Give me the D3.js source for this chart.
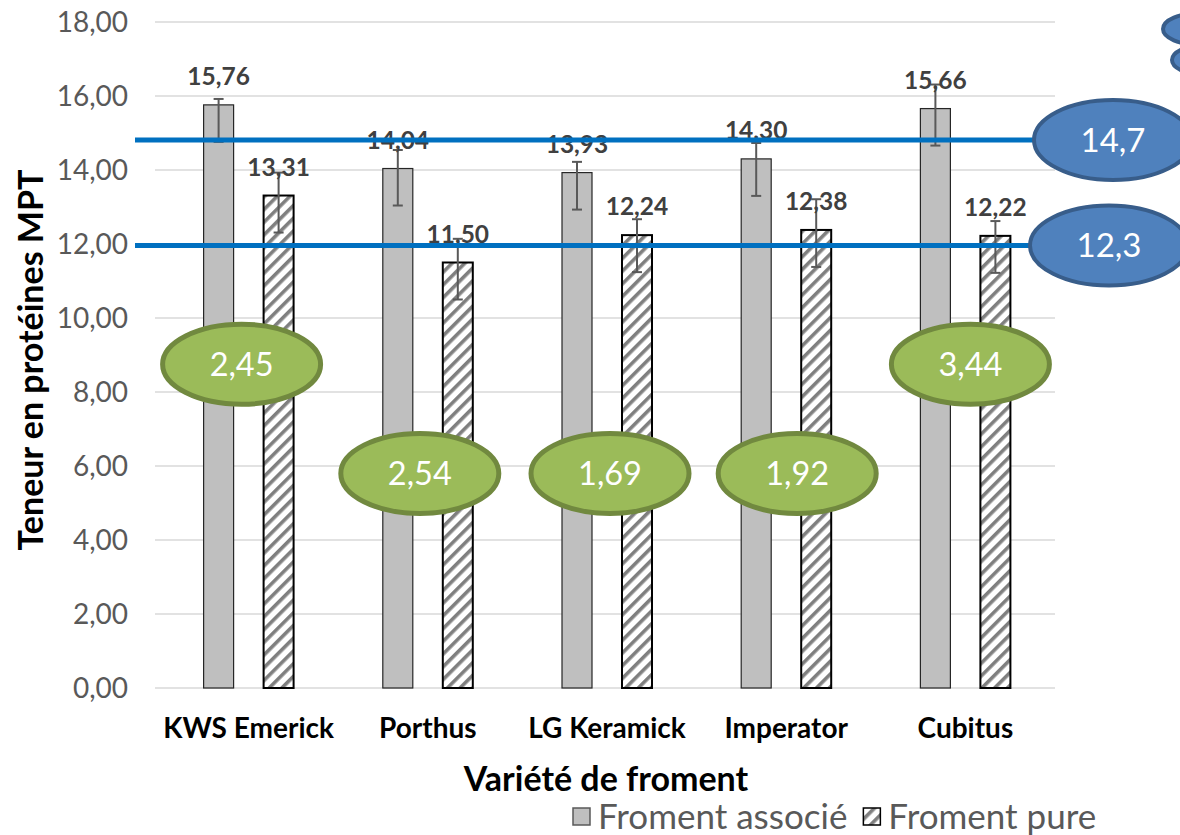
<!DOCTYPE html>
<html>
<head>
<meta charset="utf-8">
<script src="https://cdn.jsdelivr.net/npm/d3@7"></script>
<style>
  body { margin: 0; background: #fff; }
  svg { display: block; font-family: Lato, "Open Sans", sans-serif; }
</style>
</head>
<body>
<svg id="chart" width="1180" height="835"></svg>
<script>
// Chart data
let varieties = ["KWS Emerick", "Porthus", "LG Keramick", "Imperator", "Cubitus"];
let seriesNames = ["Froment associé", "Froment pure"];
let associe = [15.76, 14.04, 13.93, 14.30, 15.66];
let pure = [13.31, 11.50, 12.24, 12.38, 12.22];
let associeErrUp = [0.16, 0.50, 0.29, 0.43, 0.65];
let pureErrUp = [0.62, 0.64, 0.43, 0.83, 0.40];
let errDown = 1.0;
let yTicks = [0, 2, 4, 6, 8, 10, 12, 14, 16, 18];
// horizontal reference lines and their labels
let refValues = [14.81, 11.96];
let refLabels = ["14,7", "12,3"];
// difference bubbles: height on the y axis and shift from the category centre
let diffHeights = [8.75, 5.8, 5.8, 5.8, 8.75];
let diffShift = [-7, -8, 3, 11, 5];

let width = 1180;
let height = 835;
let margin = { top: 22, right: 125, bottom: 147, left: 159 };

let svg = d3.select("#chart");

let locale = d3.formatLocale({ decimal: ",", thousands: " ", grouping: [3], currency: ["", "€"] });
let fmt2 = locale.format(".2f");

let x0 = d3.scaleBand()
    .domain(varieties)
    .range([margin.left, width - margin.right])
    .padding(0);

let x1 = d3.scaleBand()
    .domain(seriesNames)
    .range([x0.bandwidth() / 2 - 60, x0.bandwidth() / 2 + 60])
    .paddingInner(0.5)
    .paddingOuter(0.25);

let y = d3.scaleLinear()
    .domain([0, 18])
    .range([height - margin.bottom, margin.top]);

// hatch pattern
let defs = svg.append("defs");
let pat = defs.append("pattern")
    .attr("id", "hatch")
    .attr("patternUnits", "userSpaceOnUse")
    .attr("width", 9)
    .attr("height", 9)
    .attr("patternTransform", "rotate(45)");
pat.append("rect").attr("width", 9).attr("height", 9).attr("fill", "#fff");
pat.append("rect").attr("x", 0).attr("y", 0).attr("width", 3.6).attr("height", 9).attr("fill", "#7f7f7f");

// gridlines
svg.append("g")
    .selectAll("line")
    .data(yTicks)
    .enter()
    .append("line")
    .attr("x1", margin.left - 4)
    .attr("x2", width - margin.right)
    .attr("y1", d => y(d))
    .attr("y2", d => y(d))
    .attr("stroke", "#d9d9d9")
    .attr("stroke-width", 1.5);

// y tick labels
svg.append("g")
    .selectAll("text")
    .data(yTicks)
    .enter()
    .append("text")
    .attr("x", 128)
    .attr("y", d => y(d))
    .attr("dy", "0.36em")
    .attr("text-anchor", "end")
    .attr("fill", "#595959")
    .attr("font-size", 28)
    .text(d => fmt2(d));

// bars
let rows = varieties.map((v, i) => [
    { variety: v, series: seriesNames[0], value: associe[i], up: associeErrUp[i] },
    { variety: v, series: seriesNames[1], value: pure[i], up: pureErrUp[i] }
]).flat();

let bars = svg.append("g");
bars.selectAll("rect")
    .data(rows)
    .enter()
    .append("rect")
    .attr("x", d => x0(d.variety) + x1(d.series))
    .attr("y", d => y(d.value))
    .attr("width", x1.bandwidth())
    .attr("height", d => y(0) - y(d.value))
    .attr("fill", d => d.series === seriesNames[0] ? "#bfbfbf" : "url(#hatch)")
    .attr("stroke", d => d.series === seriesNames[0] ? "#262626" : "#000")
    .attr("stroke-width", d => d.series === seriesNames[0] ? 1.2 : 2);

// error bars
let errG = svg.append("g")
    .attr("stroke", "#595959")
    .attr("stroke-width", 2);
let cx = d => x0(d.variety) + x1(d.series) + x1.bandwidth() / 2;
errG.selectAll("line.v")
    .data(rows)
    .enter()
    .append("line")
    .attr("x1", cx).attr("x2", cx)
    .attr("y1", d => y(d.value + d.up))
    .attr("y2", d => y(d.value - errDown));
errG.selectAll("line.t")
    .data(rows)
    .enter()
    .append("line")
    .attr("x1", d => cx(d) - 5).attr("x2", d => cx(d) + 5)
    .attr("y1", d => y(d.value + d.up))
    .attr("y2", d => y(d.value + d.up));
errG.selectAll("line.b")
    .data(rows)
    .enter()
    .append("line")
    .attr("x1", d => cx(d) - 5).attr("x2", d => cx(d) + 5)
    .attr("y1", d => y(d.value - errDown))
    .attr("y2", d => y(d.value - errDown));

// data labels
svg.append("g")
    .selectAll("text")
    .data(rows)
    .enter()
    .append("text")
    .attr("x", cx)
    .attr("y", d => y(d.value) - 20)
    .attr("text-anchor", "middle")
    .attr("font-size", 24.5)
    .attr("font-weight", "bold")
    .attr("fill", "#404040")
    .text(d => fmt2(d.value));

// x tick labels
svg.append("g")
    .selectAll("text")
    .data(varieties)
    .enter()
    .append("text")
    .attr("x", d => x0(d) + x0.bandwidth() / 2)
    .attr("y", 738)
    .attr("text-anchor", "middle")
    .attr("font-size", 28)
    .attr("font-weight", "bold")
    .attr("fill", "#000")
    .text(d => d);

// axis titles
svg.append("text")
    .attr("x", 606)
    .attr("y", 791)
    .attr("text-anchor", "middle")
    .attr("font-size", 34)
    .attr("font-weight", "bold")
    .text("Variété de froment");

svg.append("text")
    .attr("transform", "translate(43,360) rotate(-90)")
    .attr("text-anchor", "middle")
    .attr("font-size", 34)
    .attr("font-weight", "bold")
    .text("Teneur en protéines MPT");

// reference lines
svg.append("g")
    .selectAll("line")
    .data(refValues)
    .enter()
    .append("line")
    .attr("x1", 135)
    .attr("x2", 1080)
    .attr("y1", d => y(d))
    .attr("y2", d => y(d))
    .attr("stroke", "#0070c0")
    .attr("stroke-width", 5);

// difference bubbles
let diffs = varieties.map((v, i) => ({
    variety: v,
    diff: associe[i] - pure[i],
    h: diffHeights[i],
    shift: diffShift[i]
}));
let bub = svg.append("g")
    .selectAll("g")
    .data(diffs)
    .enter()
    .append("g")
    .attr("transform", d => `translate(${x0(d.variety) + x0.bandwidth() / 2 + d.shift},${y(d.h)})`);
bub.append("ellipse")
    .attr("rx", 79)
    .attr("ry", 40)
    .attr("fill", "#9bbb59")
    .attr("stroke", "#71893f")
    .attr("stroke-width", 5);
bub.append("text")
    .attr("dy", "0.36em")
    .attr("text-anchor", "middle")
    .attr("font-size", 32.5)
    .attr("fill", "#fff")
    .text(d => fmt2(d.diff).slice(0, 4));

// reference bubbles on the right
let refG = svg.append("g")
    .selectAll("g")
    .data(refValues)
    .enter()
    .append("g")
    .attr("transform", (d, i) => `translate(${i === 0 ? 1113 : 1109},${y(d)})`);
refG.append("ellipse")
    .attr("rx", 79)
    .attr("ry", 40)
    .attr("fill", "#4f81bd")
    .attr("stroke", "#385d8a")
    .attr("stroke-width", 4);
refG.append("text")
    .data(refLabels)
    .attr("dy", "0.36em")
    .attr("text-anchor", "middle")
    .attr("font-size", 33)
    .attr("fill", "#fff")
    .text(d => d);

// partly hidden shapes in the top right corner
svg.append("g")
    .selectAll("ellipse")
    .data([[1200, 29, 37, 16], [1206, 60, 34, 15]])
    .enter()
    .append("ellipse")
    .attr("cx", d => d[0])
    .attr("cy", d => d[1])
    .attr("rx", d => d[2])
    .attr("ry", d => d[3])
    .attr("fill", "#4f81bd")
    .attr("stroke", "#385d8a")
    .attr("stroke-width", 4);

// legend
let legend = svg.append("g");
let lx = 573;
seriesNames.forEach((name, i) => {
    legend.append("rect")
        .attr("x", lx)
        .attr("y", 808)
        .attr("width", 17)
        .attr("height", 17)
        .attr("fill", i === 0 ? "#bfbfbf" : "url(#hatch)")
        .attr("stroke", i === 0 ? "#595959" : "#000")
        .attr("stroke-width", 1.5);
    let t = legend.append("text")
        .attr("x", lx + 25)
        .attr("y", 829)
        .attr("font-size", 35)
        .attr("fill", "#595959")
        .text(name);
    lx += 25 + t.node().getComputedTextLength() + 16;
});
</script>
</body>
</html>
